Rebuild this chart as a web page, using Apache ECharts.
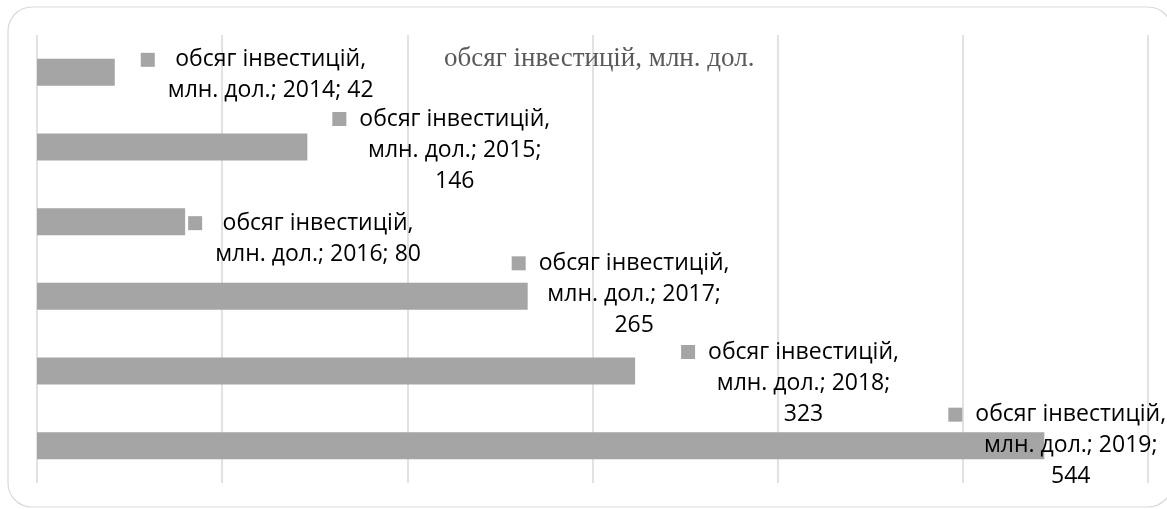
<!DOCTYPE html>
<html>
<head>
<meta charset="utf-8">
<script src="https://cdn.jsdelivr.net/npm/echarts@6/dist/echarts.min.js"></script>
<style>
  html, body { margin: 0; padding: 0; background: #fff; }
  #chart { width: 1167px; height: 509px; }
</style>
</head>
<body>
<div id="chart"></div>
<script>
// data
const SERIES_NAME = 'обсяг інвестицій, млн. дол.';
const years = ['2014', '2015', '2016', '2017', '2018', '2019'];
const investment = [42, 146, 80, 265, 323, 544];

// label placement (Excel-like manual data labels)
const labelShift = [[26, 3], [25, 3], [3, 17], [-16, -2], [46, 12], [-96, 0]];
const labelBreak = [false, true, false, true, true, true];

const chart = echarts.init(document.getElementById('chart'), null, { renderer: 'canvas' });

// текст підпису: квадратик легенди + центровані рядки
function labelText(i) {
  const head = '{sq|}{g|}{t|обсяг інвестицій,}';
  if (labelBreak[i]) {
    return head + '\n{sp|}{t|млн. дол.; ' + years[i] + ';}\n{sp|}{t|' + investment[i] + '}';
  }
  return head + '\n{sp|}{t|млн. дол.; ' + years[i] + '; ' + investment[i] + '}';
}

const barData = investment.map((v, i) => ({
  value: v,
  label: {
    offset: labelShift[i],
    formatter: () => labelText(i)
  }
}));

const option = {
  animation: false,
  title: {
    text: SERIES_NAME,
    left: 439,
    top: 40,
    textStyle: {
      fontFamily: 'Liberation Serif, serif',
      fontWeight: 'normal',
      fontSize: 27,
      color: '#595959'
    }
  },
  graphic: [{
    type: 'rect',
    shape: { x: 8, y: 7, width: 1164, height: 500, r: 24 },
    style: { fill: null, stroke: '#d9d9d9', lineWidth: 1.2 },
    silent: true,
    z: -1
  }],
  grid: { left: 37, right: 19, top: 35, bottom: 26, containLabel: false },
  xAxis: {
    type: 'value',
    min: 0, max: 600, interval: 100,
    axisLabel: { show: false },
    axisLine: { show: false },
    axisTick: { show: false },
    splitLine: { show: true, lineStyle: { color: '#d9d9d9', width: 1.5 } }
  },
  yAxis: {
    type: 'category',
    data: years,
    inverse: true,
    axisLabel: { show: false },
    axisLine: { show: false },
    axisTick: { show: false },
    splitLine: { show: false }
  },
  series: [{
    name: SERIES_NAME,
    type: 'bar',
    data: barData,
    barWidth: 27,
    itemStyle: { color: '#a5a5a5' },
    label: {
      show: true,
      position: 'right',
      distance: 0,
      color: '#000',
      fontFamily: 'Open Sans',
      fontSize: 23,
      lineHeight: 31,
      rich: {
        sq: { width: 14, height: 14, backgroundColor: '#a5a5a5', align: 'left' },
        g: { width: 13, align: 'left' },
        sp: { width: 27, align: 'left' },
        t: { fontFamily: 'Open Sans', fontSize: 23, lineHeight: 31, color: '#000', align: 'center' }
      }
    }
  }]
};

chart.setOption(option);
</script>
</body>
</html>
